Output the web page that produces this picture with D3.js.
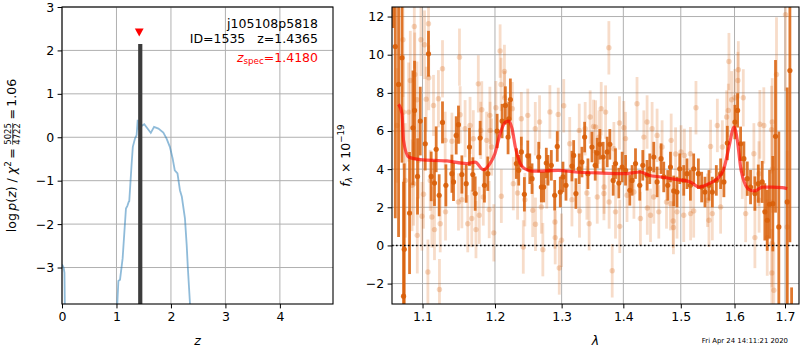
<!DOCTYPE html>
<html>
<head>
<meta charset="utf-8">
<script src="https://cdn.jsdelivr.net/npm/d3@7"></script>
<style>
  body { margin: 0; background: #fff; }
  svg { display: block; font-family: "DejaVu Sans", sans-serif; }
</style>
</head>
<body>
<svg id="fig" width="800" height="350"></svg>
<script>
// ---- redshift probability, log p(z) ----
const pzZ = [0, 0.03, 0.045, 0.055, null,
  0.995, 1.015, 1.035, 1.065, 1.113, 1.174, 1.2, 1.224, 1.235, 1.279, 1.30, 1.34, 1.37, 1.39, 1.41,
  1.46, 1.51, 1.57, 1.63, 1.69, 1.77, 1.86, 1.92, 1.98, 2.03, 2.07, 2.12, 2.165, 2.2, 2.257,
  2.29, 2.31, 2.35, 2.37];
const pzLog = [-2.93, -3.0, -3.12, -4.2, null,
  -4.5, -3.84, -3.31, -3.28, -2.79, -1.64, -1.58, -1.49, -1.47, -0.6, -0.22, -0.03, 0.05, 0.4, 0.2,
  0.26, 0.3, 0.2, 0.1, 0.24, 0.2, 0.11, -0.03, -0.22, -0.48, -0.76, -0.83, -1.22, -1.37, -1.87,
  -2.5, -3.0, -3.84, -4.3];
const zBest = 1.4365, zBestPeak = 2.147;
const zSpec = 1.418, zSpecMark = 2.41;
const zTicks = [0, 1, 2, 3, 4];
const pzTicks = [-3, -2, -1, 0, 1, 2, 3];
const annotRoot = "j105108p5818";
const annotId = "ID=1535   z=1.4365";
const annotSpec = "=1.4180";

// ---- 1D spectrum: flux in units of 1e-19 ----
const darkWave = [1.0620, 1.0646, 1.0688, 1.0732, 1.0752, 1.0761, 1.0830, 1.0874, 1.0895, 1.0934,
  1.0970, 1.1036, 1.1079, 1.1115, 1.1159, 1.1182, 1.1222, 1.1267, 1.1313, 1.1395,
  1.1417, 1.1454, 1.1485, 1.1532, 1.1592, 1.1638, 1.1685, 1.1718, 1.1788, 1.1849,
  1.1897, 1.2031, 1.2103, 1.2151, 1.2190, 1.2201, 1.2224, 1.2312, 1.2347, 1.2386,
  1.2431, 1.2482, 1.2512, 1.2546, 1.2647, 1.2687, 1.2723, 1.2763, 1.2789, 1.2840,
  1.2892, 1.2932, 1.2979, 1.3021, 1.3068, 1.3162, 1.3189, 1.3225, 1.3278, 1.3321,
  1.3364, 1.3417, 1.3482, 1.3535, 1.3568, 1.3611, 1.3665, 1.3731, 1.3775, 1.3830,
  1.3869, 1.3924, 1.3980, 1.4037, 1.4109, 1.4148, 1.4206, 1.4279, 1.4331, 1.4405,
  1.4452, 1.4521, 1.4579, 1.4649, 1.4696, 1.4767, 1.4815, 1.4873, 1.4932, 1.4981,
  1.5053, 1.5112, 1.5174, 1.5234, 1.5320, 1.5381, 1.5442, 1.5516, 1.5579, 1.5654,
  1.5735, 1.5797, 1.5862, 1.6007, 1.6059, 1.6117, 1.6181, 1.6247, 1.6311, 1.6396,
  1.6463, 1.6541, 1.6593, 1.6641, 1.6687, 1.6753, 1.6807, 1.6874, 1.7045, 1.7100, 1.7135];
const darkFlux = [16.0, 10.43, 8.44, 9.84, -2.66, -0.2, 1.70, 6.17, 7.08, 3.62,
  6.52, 5.33, 10.05, 3.62, 3.27, 5.04, 2.63, 6.45, 3.15, 3.76,
  3.33, 5.77, 6.33, 3.72, 3.24, 5.16, 3.72, 2.72, 5.63, 3.15,
  3.76, 6.00, 6.52, 7.34, 5.68, 6.64, 7.65, 4.29, 3.94, 4.90,
  2.68, 4.70, 4.02, 3.50, 4.63, 3.06, 3.06, 4.32, 3.94, 4.20,
  2.63, 5.19, 2.80, 3.59, 3.15, 4.16, 4.72, 2.72, 4.02, 4.37,
  5.68, 3.76, 5.16, 4.20, 4.84, 5.30, 4.63, 4.90, 5.30, 3.41,
  4.29, 3.27, 4.11, 3.94, 2.89, 3.41, 4.29, 3.15, 4.20, 3.68,
  4.02, 4.63, 3.33, 4.55, 3.59, 3.15, 4.11, 2.86, 2.80, 4.02,
  3.41, 3.76, 3.15, 4.02, 3.76, 3.06, 2.80, 3.15, 2.80, 3.41,
  3.76, 3.33, 5.37, 6.47, 7.08, 5.33, 4.55, 3.50, 3.06, 2.72,
  3.24, 3.33, 1.76, 1.32, 2.16, 2.19, 5.72, 0.97, 2.28, 9.17, -6.0];
const darkErr = [4.6, 9.0, 8.0, 5.5, 6.0, 4.5, 3.2, 3.0, 2.6, 2.0,
  1.8, 1.4, 1.2, 1.3, 1.2, 1.2, 1.1, 1.1, 1.1, 1.0,
  1.0, 1.0, 1.0, 1.0, 1.0, 1.0, 0.9, 0.9, 0.9, 0.9,
  0.9, 0.9, 0.9, 1.0, 0.9, 0.9, 1.1, 0.8, 0.8, 0.8,
  0.9, 0.8, 0.8, 0.8, 0.8, 0.8, 0.8, 0.8, 0.8, 0.8,
  0.8, 0.8, 0.8, 0.8, 0.8, 0.8, 0.8, 0.8, 0.8, 0.8,
  0.8, 0.8, 0.8, 0.8, 0.8, 0.8, 0.8, 0.8, 0.8, 0.8,
  0.8, 0.8, 0.8, 0.8, 0.8, 0.8, 0.8, 0.8, 0.8, 0.8,
  0.8, 0.8, 0.8, 0.8, 0.8, 0.8, 0.8, 0.8, 0.8, 0.8,
  0.8, 0.8, 0.8, 0.8, 0.8, 0.8, 0.8, 0.8, 0.8, 0.8,
  0.8, 0.8, 0.9, 0.9, 0.9, 0.9, 0.9, 0.9, 0.9, 0.9,
  1.0, 1.1, 1.5, 1.6, 1.8, 2.5, 4.0, 5.0, 6.0, 9.0, 3.8];

const lightWave = [1.0667, 1.0744, 1.0752, 1.0775, 1.0818, 1.0840, 1.0862, 1.0883, 1.0892, 1.0898,
  1.0927, 1.0931, 1.0948, 1.0979, 1.0992, 1.1013, 1.1026, 1.1049, 1.1071, 1.1079,
  1.1083, 1.1102, 1.1124, 1.1146, 1.1159, 1.1212, 1.1226, 1.1236, 1.1267, 1.1303,
  1.1308, 1.1395, 1.1485, 1.1499, 1.1508, 1.1532, 1.1577, 1.1614, 1.1646, 1.1670,
  1.1692, 1.1729, 1.1762, 1.1776, 1.1797, 1.1811, 1.1833, 1.1880, 1.1917, 1.1927,
  1.1930, 1.1951, 1.1983, 1.2013, 1.2074, 1.2088, 1.2092, 1.2137, 1.2140, 1.2253,
  1.2267, 1.2330, 1.2386, 1.2415, 1.2438, 1.2482, 1.2556, 1.2595, 1.2598, 1.2660,
  1.2687, 1.2710, 1.2770, 1.2818, 1.2896, 1.2900, 1.2947, 1.2963, 1.2998, 1.3033,
  1.3127, 1.3162, 1.3278, 1.3282, 1.3373, 1.3400, 1.3437, 1.3453, 1.3508, 1.3541,
  1.3568, 1.3596, 1.3633, 1.3677, 1.3680, 1.3705, 1.3759, 1.3763, 1.3814, 1.3842,
  1.3869, 1.3935, 1.3940, 1.4008, 1.4037, 1.4062, 1.4179, 1.4232, 1.4290, 1.4349,
  1.4405, 1.4409, 1.4464, 1.4492, 1.4521, 1.4579, 1.4609, 1.4667, 1.4745, 1.4815,
  1.4828, 1.4863, 1.4868, 1.4907, 1.4932, 1.5004, 1.5053, 1.5065, 1.5174, 1.5178,
  1.5234, 1.5276, 1.5488, 1.5516, 1.5546, 1.5579, 1.5673, 1.5735, 1.5767, 1.5849,
  1.5881, 1.5893, 1.5945, 1.6007, 1.6065, 1.6073, 1.6150, 1.6169, 1.6215, 1.6376,
  1.6396, 1.6475, 1.6479, 1.6495, 1.6573, 1.6641, 1.6727, 1.6733, 1.6737, 1.6741,
  1.6745, 1.6773, 1.6827, 1.7010, 1.7045];
const lightFlux = [6.29, 10.78, 6.99, 3.41, 6.99, 8.65, 3.15, 3.24, 11.48, 8.96,
  7.64, 0.53, 4.46, 10.78, 1.53, 2.68, 10.52, 7.67, -1.39, 11.62,
  8.79, 3.41, 1.49, 7.34, 0.83, 7.69, -2.31, 1.14, 9.26, 5.51,
  1.76, 5.46, 2.28, 9.87, 6.85, 2.40, 6.12, 1.14, 6.29, 1.41,
  5.59, 0.83, 8.47, 1.58, 6.03, 7.11, 2.54, 5.51, 1.88, 6.82,
  6.03, 5.16, 0.66, 7.22, 10.19, 8.44, 2.58, 9.12, 7.74, 7.17,
  3.24, 2.75, 6.64, -0.08, 2.40, 6.82, 1.84, 6.12, 1.11, 6.47,
  2.02, -0.22, 3.33, 7.00, 1.23, 0.41, 6.87, -1.18, 0.27, 7.32,
  5.33, 2.40, 6.03, 1.81, 6.12, 2.75, 1.14, 6.73, 6.24, 6.21,
  2.54, 5.68, 7.17, 2.72, 3.06, 6.99, 10.36, 2.28, -1.33, 5.07,
  1.76, 6.42, 1.00, 6.17, 5.60, 2.63, 2.80, 7.43, 1.41, 5.68,
  6.47, 1.96, 1.58, 6.12, 2.54, 5.77, 1.76, 5.16, 2.28, 2.19,
  5.51, 1.28, 0.94, 4.79, 1.76, 4.90, 1.58, 4.72, 4.81, 1.67,
  1.81, 7.22, 2.37, 1.32, 5.19, 1.67, 6.29, 2.02, 5.16, 6.73,
  7.08, 9.64, 7.64, 7.74, 8.65, 9.21, 3.94, 7.74, 1.67, 4.81,
  0.41, 3.76, 2.37, 6.35, 6.29, 0.41, 6.07, -1.44, 0.10, 6.47,
  4.02, -2.35, 8.96, 12.10, 0.97];
const lightErr = [3.0, 3.0, 3.0, 3.0, 2.6, 2.6, 2.4, 2.2, 2.2, 2.2,
  2.0, 2.0, 2.0, 1.9, 1.8, 1.8, 1.8, 1.7, 1.7, 1.7,
  1.7, 1.6, 1.6, 1.6, 1.6, 1.5, 1.6, 1.5, 1.5, 1.5,
  1.5, 1.5, 1.5, 1.5, 1.5, 1.5, 1.5, 1.5, 1.5, 1.5,
  1.5, 1.5, 1.5, 1.5, 1.5, 1.5, 1.5, 1.5, 1.5, 1.5,
  1.5, 1.5, 1.5, 1.4, 1.4, 1.4, 1.4, 1.4, 1.4, 1.4,
  1.4, 1.4, 1.4, 1.4, 1.4, 1.4, 1.4, 1.4, 1.4, 1.4,
  1.4, 1.4, 1.4, 1.4, 1.4, 1.4, 1.4, 1.4, 1.4, 1.4,
  1.4, 1.4, 1.4, 1.4, 1.4, 1.4, 1.4, 1.4, 1.4, 1.4,
  1.4, 1.4, 1.4, 1.4, 1.4, 1.4, 1.4, 1.4, 1.4, 1.4,
  1.4, 1.4, 1.4, 1.4, 1.4, 1.4, 1.4, 1.4, 1.4, 1.4,
  1.4, 1.4, 1.4, 1.4, 1.4, 1.4, 1.4, 1.4, 1.4, 1.4,
  1.4, 1.4, 1.4, 1.4, 1.4, 1.4, 1.4, 1.4, 1.4, 1.4,
  1.4, 1.4, 1.4, 1.4, 1.4, 1.4, 1.4, 1.4, 1.4, 1.4,
  1.4, 1.5, 1.5, 1.5, 1.5, 1.5, 1.5, 1.5, 1.5, 1.6,
  1.6, 1.7, 1.7, 1.8, 2.0, 2.0, 2.3, 2.3, 2.3, 2.3,
  2.3, 2.5, 3.0, 4.0, 4.0];

const modelWave = [1.0688, 1.0732, 1.0752, 1.0818, 1.0970, 1.1327, 1.1601, 1.1718, 1.1833, 1.1927,
  1.1999, 1.2074, 1.2151, 1.2201, 1.2249, 1.2297, 1.2372, 1.2438, 1.2546, 1.2698,
  1.2947, 1.3215, 1.3564, 1.4008, 1.4290, 1.4436, 1.4644, 1.4932, 1.5174, 1.5335,
  1.5516, 1.5673, 1.5797, 1.5893, 1.5991, 1.6054, 1.6117, 1.6215, 1.6311, 1.6396,
  1.6541, 1.6741, 1.6942, 1.7045];
const modelFlux = [7.40, 6.90, 5.50, 4.64, 4.50, 4.43, 4.29, 4.37, 3.97, 4.29,
  4.81, 5.86, 6.47, 6.52, 6.12, 5.16, 4.29, 4.02, 3.90, 3.90,
  3.94, 3.85, 3.80, 3.76, 3.85, 3.68, 3.59, 3.45, 3.33, 3.06,
  3.24, 3.50, 4.02, 5.16, 6.21, 5.51, 4.11, 3.15, 2.89, 2.86,
  3.06, 3.06, 3.03, 2.98];
const waveTicks = [1.1, 1.2, 1.3, 1.4, 1.5, 1.6, 1.7];
const fluxTicks = [-2, 0, 2, 4, 6, 8, 10, 12];
const stamp = "Fri Apr 24 14:11:21 2020";

// ---- layout ----
const svg = d3.select("#fig");
const FS = 12.5;
const gridColor = "#b0b0b0";
const orange = "#d9600a";

const L = { x0: 62, x1: 333, y0: 7, y1: 304 };
const R = { x0: 392, x1: 799, y0: 7, y1: 304 };

const xL = d3.scaleLinear().domain([0, 4.975]).range([L.x0, L.x1]);
const yL = d3.scaleLinear().domain([-3.84, 3]).range([L.y1, L.y0]);
const xR = d3.scaleLog().domain([1.0604, 1.7288]).range([R.x0, R.x1]);
const yR = d3.scaleLinear().domain([-3.07, 12.5]).range([R.y1, R.y0]);

const defs = svg.append("defs");
defs.append("clipPath").attr("id", "clipL").append("rect")
  .attr("x", L.x0).attr("y", L.y0).attr("width", L.x1 - L.x0).attr("height", L.y1 - L.y0);
defs.append("clipPath").attr("id", "clipR").append("rect")
  .attr("x", R.x0).attr("y", R.y0).attr("width", R.x1 - R.x0).attr("height", R.y1 - R.y0);

function grid(g, x, y, xt, yt, box) {
  g.selectAll(".gx").data(xt).join("line").attr("class", "gx")
    .attr("x1", d => x(d)).attr("x2", d => x(d)).attr("y1", box.y0).attr("y2", box.y1)
    .attr("stroke", gridColor).attr("stroke-width", 1);
  g.selectAll(".gy").data(yt).join("line").attr("class", "gy")
    .attr("x1", box.x0).attr("x2", box.x1).attr("y1", d => y(d)).attr("y2", d => y(d))
    .attr("stroke", gridColor).attr("stroke-width", 1);
}

function axes(x, y, xt, yt, box, fmtX, fmtY) {
  const ax = svg.append("g").attr("transform", `translate(0,${box.y1})`)
    .call(d3.axisBottom(x).tickValues(xt).tickFormat(fmtX).tickSize(4.4).tickPadding(3.5));
  const ay = svg.append("g").attr("transform", `translate(${box.x0},0)`)
    .call(d3.axisLeft(y).tickValues(yt).tickFormat(fmtY).tickSize(4.4).tickPadding(3.5));
  [ax, ay].forEach(a => {
    a.select(".domain").remove();
    a.selectAll("text").attr("font-size", FS).attr("font-family", "DejaVu Sans").attr("fill", "#000");
    a.selectAll("line").attr("stroke", "#000").attr("stroke-width", 1);
  });
  svg.append("rect").attr("x", box.x0).attr("y", box.y0)
    .attr("width", box.x1 - box.x0).attr("height", box.y1 - box.y0)
    .attr("fill", "none").attr("stroke", "#000").attr("stroke-width", 1.1);
}

// ---- left panel: p(z) ----
const gL = svg.append("g");
grid(gL, xL, yL, zTicks, pzTicks, L);
const pL = gL.append("g").attr("clip-path", "url(#clipL)");
const pzData = pzZ.map((z, i) => ({ z, v: pzLog[i] }));
pL.append("path").datum(pzData)
  .attr("d", d3.line().defined(d => d.z !== null).x(d => xL(d.z)).y(d => yL(d.v)))
  .attr("fill", "none").attr("stroke", "#1f77b4").attr("stroke-opacity", 0.5).attr("stroke-width", 1.8);
pL.append("line")
  .attr("x1", xL(zBest)).attr("x2", xL(zBest)).attr("y1", yL(-3.84)).attr("y2", yL(zBestPeak))
  .attr("stroke", "#3c3c3c").attr("stroke-width", 4.2);
{
  const cx = xL(zSpec), cy = yL(zSpecMark);
  svg.append("path")
    .attr("d", `M${cx - 4.4},${cy - 4} L${cx + 4.4},${cy - 4} L${cx},${cy + 4} Z`)
    .attr("fill", "#ff0000");
}
axes(xL, yL, zTicks, pzTicks, L, d3.format("d"), d3.format("d"));

// annotation text, right aligned in the upper corner
const ann = svg.append("g").attr("font-size", FS).attr("text-anchor", "end");
ann.append("text").attr("x", 318).attr("y", 28.3).text(annotRoot);
ann.append("text").attr("x", 318).attr("y", 43.3).style("white-space", "pre").text(annotId);
{
  const t = ann.append("text").attr("x", 318).attr("y", 61.7).attr("fill", "#ff0000");
  t.append("tspan").attr("font-style", "italic").text("z");
  t.append("tspan").attr("font-size", FS * 0.7).attr("dy", 2.5).text("spec");
  t.append("tspan").attr("dy", -2.5).text(annotSpec);
}

// x label
svg.append("text").attr("x", (L.x0 + L.x1) / 2).attr("y", 344.5).attr("text-anchor", "middle")
  .attr("font-size", FS).attr("font-style", "italic").text("z");

// rotated y label with a stacked fraction
{
  const g = svg.append("g").attr("font-size", FS);
  const inner = g.append("g");
  const t1 = inner.append("text").attr("x", 0).attr("y", 0);
  t1.append("tspan").text("log\u2009");
  t1.append("tspan").attr("font-style", "italic").text("p");
  t1.append("tspan").text("(");
  t1.append("tspan").attr("font-style", "italic").text("z");
  t1.append("tspan").text(") / ");
  t1.append("tspan").attr("font-style", "italic").text("\u03c7");
  t1.append("tspan").attr("font-size", FS * 0.7).attr("dy", -5).text("2");
  t1.append("tspan").attr("dy", 5).text("\u2009=\u2009");
  const w1 = t1.node().getComputedTextLength();
  const fs2 = FS * 0.68;
  const num = inner.append("text").attr("font-size", fs2).attr("text-anchor", "middle").text("5025");
  const den = inner.append("text").attr("font-size", fs2).attr("text-anchor", "middle").text("4722");
  const fw = Math.max(num.node().getComputedTextLength(), den.node().getComputedTextLength());
  const fc = w1 + 1 + fw / 2;
  num.attr("x", fc).attr("y", -4.6);
  den.attr("x", fc).attr("y", 4.4);
  inner.append("line").attr("x1", fc - fw / 2).attr("x2", fc + fw / 2).attr("y1", -3.3).attr("y2", -3.3)
    .attr("stroke", "#000").attr("stroke-width", 0.7);
  const t3 = inner.append("text").attr("x", w1 + fw + 2).attr("y", 0).text("\u2009=\u20091.06");
  const total = w1 + fw + 2 + t3.node().getComputedTextLength();
  inner.attr("transform", `translate(${-total / 2},0)`);
  g.attr("transform", `translate(16,${(L.y0 + L.y1) / 2}) rotate(-90)`);
}

// ---- right panel: spectrum ----
const gR = svg.append("g");
grid(gR, xR, yR, waveTicks, fluxTicks, R);
const pR = gR.append("g").attr("clip-path", "url(#clipR)");

const light = lightWave.map((w, i) => ({ w, f: lightFlux[i], e: lightErr[i] }));
const dark = darkWave.map((w, i) => ({ w, f: darkFlux[i], e: darkErr[i] }));

const lg = pR.append("g").attr("fill", orange).attr("stroke", orange);
lg.selectAll("line").data(light).join("line")
  .attr("x1", d => xR(d.w)).attr("x2", d => xR(d.w))
  .attr("y1", d => yR(d.f - d.e)).attr("y2", d => yR(d.f + d.e))
  .attr("stroke-width", 2.8).attr("stroke-opacity", 0.22);
lg.selectAll("circle").data(light).join("circle")
  .attr("cx", d => xR(d.w)).attr("cy", d => yR(d.f)).attr("r", 2.7)
  .attr("stroke", "none").attr("fill-opacity", 0.25);

const dg = pR.append("g").attr("fill", orange).attr("stroke", orange);
dg.selectAll("line").data(dark).join("line")
  .attr("x1", d => xR(d.w)).attr("x2", d => xR(d.w))
  .attr("y1", d => yR(d.f - d.e)).attr("y2", d => yR(d.f + d.e))
  .attr("stroke-width", 2.8).attr("stroke-opacity", 0.85);
dg.selectAll("circle").data(dark).join("circle")
  .attr("cx", d => xR(d.w)).attr("cy", d => yR(d.f)).attr("r", 2.6)
  .attr("stroke", "none").attr("fill-opacity", 0.92);

pR.append("line").attr("x1", R.x0).attr("x2", R.x1).attr("y1", yR(0)).attr("y2", yR(0))
  .attr("stroke", "#000").attr("stroke-width", 1.6).attr("stroke-dasharray", "1.6,2.4");

const model = modelWave.map((w, i) => ({ w, f: modelFlux[i] }));
pR.append("path").datum(model)
  .attr("d", d3.line().curve(d3.curveMonotoneX).x(d => xR(d.w)).y(d => yR(d.f)))
  .attr("fill", "none").attr("stroke", "#ff0000").attr("stroke-opacity", 0.65)
  .attr("stroke-width", 3.2).attr("stroke-linejoin", "round");

axes(xR, yR, waveTicks, fluxTicks, R, d3.format(".1f"), d3.format("d"));

svg.append("text").attr("x", (R.x0 + R.x1) / 2).attr("y", 344.5).attr("text-anchor", "middle")
  .attr("font-size", FS).attr("font-style", "italic").text("\u03bb");

{
  const t = svg.append("text").attr("font-size", FS).attr("text-anchor", "middle")
    .attr("transform", `translate(349.5,${(R.y0 + R.y1) / 2}) rotate(-90)`);
  t.append("tspan").attr("font-style", "italic").text("f");
  t.append("tspan").attr("font-style", "italic").attr("font-size", FS * 0.7).attr("dy", 2.5).text("\u03bb");
  t.append("tspan").attr("dy", -2.5).text(" \u00d7 10");
  t.append("tspan").attr("font-size", FS * 0.7).attr("dy", -5.5).text("\u221219");
}

svg.append("text").attr("x", 788).attr("y", 343).attr("text-anchor", "end")
  .attr("font-size", 6.9).text(stamp);
</script>
</body>
</html>
